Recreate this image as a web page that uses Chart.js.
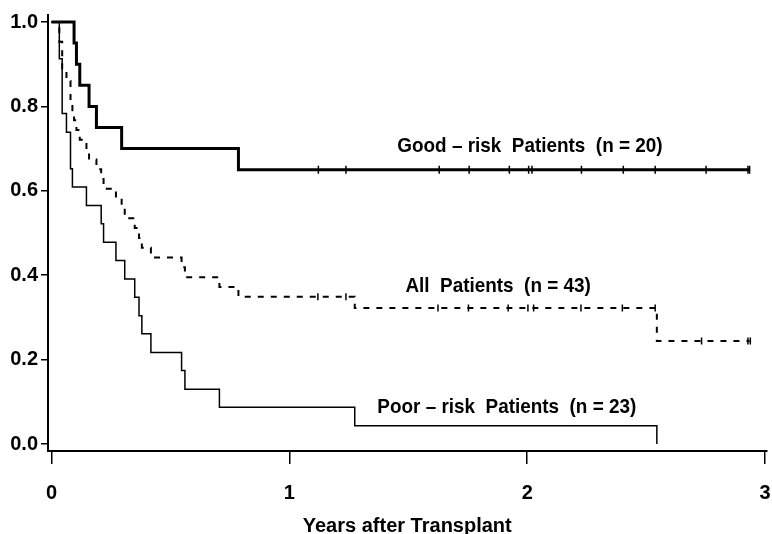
<!DOCTYPE html>
<html>
<head>
<meta charset="utf-8">
<script src="https://cdn.jsdelivr.net/npm/chart.js@4.4.1/dist/chart.umd.min.js"></script>
<style>
  html, body { margin: 0; padding: 0; background: #fff; overflow: hidden; }
  canvas { display: block; }
</style>
</head>
<body>
<canvas id="kmChart" width="772" height="534"></canvas>
<script>
// Kaplan-Meier curves, values (years, survival)
const goodTimes = [0, 0.095, 0.105, 0.119, 0.158, 0.189, 0.295, 0.786, 2.935];
const goodSurv  = [1.0, 0.95, 0.90, 0.85, 0.80, 0.75, 0.70, 0.65, 0.65];

const poorTimes = [0, 0.033, 0.045, 0.063, 0.080, 0.088, 0.147, 0.209, 0.219, 0.271, 0.308,
                   0.350, 0.368, 0.380, 0.418, 0.547, 0.561, 0.706, 1.275, 2.545];
const poorSurv  = [1.0, 0.913, 0.783, 0.739, 0.652, 0.609, 0.565, 0.522, 0.478, 0.435, 0.391,
                   0.348, 0.304, 0.261, 0.217, 0.174, 0.130, 0.087, 0.043, 0.0];

const allTimes = [0, 0.033, 0.045, 0.063, 0.080, 0.088, 0.095, 0.105, 0.119, 0.147, 0.158,
                  0.189, 0.209, 0.219, 0.271, 0.295, 0.308, 0.350, 0.368, 0.380, 0.418,
                  0.547, 0.561, 0.706, 0.786, 1.275, 2.545, 2.935];
const allSurv  = [1.0, 0.953, 0.884, 0.860, 0.814, 0.791, 0.767, 0.744, 0.721, 0.698, 0.674,
                  0.651, 0.628, 0.605, 0.581, 0.558, 0.535, 0.512, 0.488, 0.465, 0.442,
                  0.419, 0.395, 0.372, 0.349, 0.322, 0.244, 0.244];

// censored observations (tick marks)
const goodCensTimes = [1.122, 1.238, 1.630, 1.756, 1.925, 2.006, 2.020, 2.228, 2.404, 2.538, 2.752, 2.928, 2.935];
const goodCensSurv  = [0.65, 0.65, 0.65, 0.65, 0.65, 0.65, 0.65, 0.65, 0.65, 0.65, 0.65, 0.65, 0.65];
const allCensTimes  = [1.120, 1.238, 1.625, 1.753, 1.920, 2.003, 2.027, 2.226, 2.400, 2.538, 2.733, 2.928, 2.938];
const allCensSurv   = [0.349, 0.349, 0.322, 0.322, 0.322, 0.322, 0.322, 0.322, 0.322, 0.322, 0.244, 0.244, 0.244];

const xTicks = [0, 1, 2, 3];
const yTicks = [0.0, 0.2, 0.4, 0.6, 0.8, 1.0];

const curveLabels = [
    { text: 'Good \u2013 risk  Patients  (n = 20)', x: 1.454, y: 0.692 },
    { text: 'All  Patients  (n = 43)', x: 1.488, y: 0.360 },
    { text: 'Poor \u2013 risk  Patients  (n = 23)', x: 1.370, y: 0.073 }
];

function pts(xs, ys) {
    return xs.map((x, i) => ({ x: x, y: ys[i] }));
}

const FONT = "'Liberation Sans', Arial, sans-serif";

// tulisan nama kurva langsung di dalam grafik (huruf aslinya agak sempit)
const curveLabelPlugin = {
    id: 'curveLabels',
    afterDatasetsDraw(chart) {
        const ctx = chart.ctx;
        const xs = chart.scales.x, ys = chart.scales.y;
        ctx.save();
        ctx.fillStyle = '#000';
        ctx.font = 'bold 21px ' + FONT;
        ctx.textAlign = 'left';
        ctx.textBaseline = 'alphabetic';
        curveLabels.forEach(l => {
            ctx.save();
            ctx.translate(xs.getPixelForValue(l.x), ys.getPixelForValue(l.y));
            ctx.scale(0.9, 1);
            ctx.fillText(l.text, 0, 0);
            ctx.restore();
        });
        ctx.restore();
    }
};

const ctx = document.getElementById('kmChart').getContext('2d');
new Chart(ctx, {
    type: 'line',
    data: {
        datasets: [
            {
                label: 'Good-risk',
                data: pts(goodTimes, goodSurv),
                stepped: 'before',
                borderColor: '#000',
                borderWidth: 3,
                pointRadius: 0,
                fill: false
            },
            {
                label: 'All',
                data: pts(allTimes, allSurv),
                stepped: 'before',
                borderColor: '#000',
                borderWidth: 2,
                borderDash: [6, 7],
                pointRadius: 0,
                fill: false
            },
            {
                label: 'Poor-risk',
                data: pts(poorTimes, poorSurv),
                stepped: 'before',
                borderColor: '#000',
                borderWidth: 1.5,
                pointRadius: 0,
                fill: false
            },
            {
                label: 'Good censored',
                data: pts(goodCensTimes, goodCensSurv),
                showLine: false,
                pointStyle: 'line',
                rotation: 90,
                pointRadius: 4,
                borderColor: '#000',
                borderWidth: 1.5
            },
            {
                label: 'All censored',
                data: pts(allCensTimes, allCensSurv),
                showLine: false,
                pointStyle: 'line',
                rotation: 90,
                pointRadius: 3.5,
                borderColor: '#000',
                borderWidth: 1.5
            }
        ]
    },
    options: {
        responsive: false,
        animation: false,
        layout: { padding: { top: 15, left: 0, right: 0, bottom: 0 } },
        plugins: {
            legend: { display: false },
            tooltip: { enabled: false }
        },
        scales: {
            x: {
                type: 'linear',
                min: -0.0146,
                max: 3.006,
                afterBuildTicks: s => { s.ticks = xTicks.map(v => ({ value: v })); },
                afterFit: s => { s.height = 83; s.paddingLeft = 0; s.paddingRight = 0; },
                ticks: {
                    color: '#000',
                    font: { family: FONT, size: 20, weight: 'bold' },
                    padding: 17,
                    maxRotation: 0,
                    callback: v => String(v)
                },
                grid: { display: true, drawOnChartArea: false, color: '#000', lineWidth: 1.5, tickLength: 13 },
                border: { display: true, color: '#000', width: 2 },
                title: {
                    display: true,
                    text: 'Years after Transplant',
                    color: '#000',
                    font: { family: FONT, size: 20, weight: 'bold', lineHeight: 0.8 },
                    padding: { top: 0, bottom: 0 }
                }
            },
            y: {
                min: -0.0166,
                max: 1.0166,
                afterBuildTicks: s => { s.ticks = yTicks.map(v => ({ value: v })); },
                afterFit: s => { s.width = 48; s.paddingTop = 0; s.paddingBottom = 0; },
                ticks: {
                    color: '#000',
                    font: { family: FONT, size: 20, weight: 'bold' },
                    padding: 3,
                    callback: v => v.toFixed(1)
                },
                grid: { display: true, drawOnChartArea: false, color: '#000', lineWidth: 1.5, tickLength: 7 },
                border: { display: true, color: '#000', width: 2 }
            }
        }
    },
    plugins: [curveLabelPlugin]
});
</script>
</body>
</html>
